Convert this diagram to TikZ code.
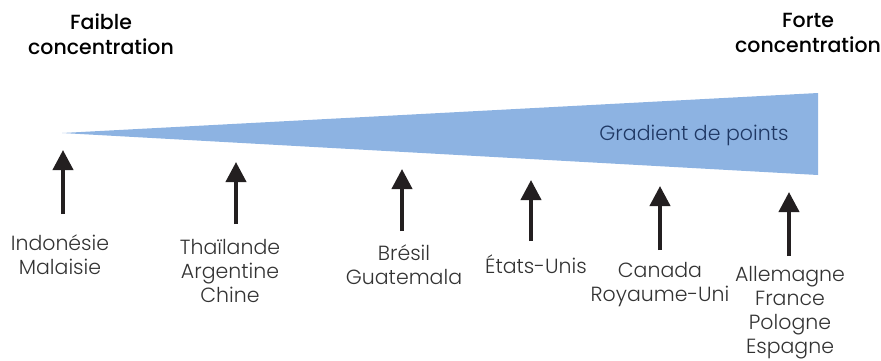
\documentclass[tikz,border=0pt]{standalone}
\usepackage{fontspec}
\setmainfont{Poppins}[UprightFont=* Light,BoldFont=* Medium,Ligatures={NoCommon,NoRare}]
\usetikzlibrary{arrows.meta}
\definecolor{wedge}{HTML}{8DB3E2}
\definecolor{navy}{HTML}{1F3864}
\definecolor{txt}{HTML}{333333}
\definecolor{arr}{HTML}{231F20}
\begin{document}
\begin{tikzpicture}[x=1pt,y=-1pt,
  lbl/.style={align=center,text=txt,font=\fontsize{20.5}{24}\selectfont,inner sep=0pt,anchor=north},
  ttl/.style={align=center,text=black,font=\bfseries\fontsize{20.5}{25}\selectfont,inner sep=0pt,anchor=north},
  up/.style={draw=arr,line width=4pt,-{Triangle[width=20pt,length=20pt]}}]
\useasboundingbox (0,0) rectangle (881,360);
\fill[wedge] (62,133) -- (818,93) -- (818,175) -- cycle;
\node[text=navy,font=\fontsize{20.5}{24}\selectfont] (g) at (694,135) {Gradient de points};
\node[ttl] (f1) at (101,14) {Faible\\concentration};
\node[ttl] (f2) at (808,13) {Forte\\concentration};
\coordinate (t1) at (63,150); \coordinate (b1) at (63,214);
\coordinate (t2) at (236,162); \coordinate (b2) at (236,224);
\coordinate (t3) at (402,169); \coordinate (b3) at (402,231);
\coordinate (t4) at (531,180); \coordinate (b4) at (531,241);
\coordinate (t5) at (660,186); \coordinate (b5) at (660,250);
\coordinate (t6) at (789,192); \coordinate (b6) at (789,256);
\foreach \i in {1,...,6} \draw[up] (b\i) -- (t\i);
\node[lbl] (l1) at (60,235) {Indonésie\\Malaisie};
\node[lbl] (l2) at (230,239) {Thaïlande\\Argentine\\Chine};
\node[lbl] (l3) at (404,245) {Brésil\\Guatemala};
\node[lbl] (l4) at (536,255) {États-Unis};
\node[lbl] (l5) at (660,262) {Canada\\Royaume-Uni};
\node[lbl] (l6) at (790,266) {Allemagne\\France\\Pologne\\Espagne};
\end{tikzpicture}
\end{document}
